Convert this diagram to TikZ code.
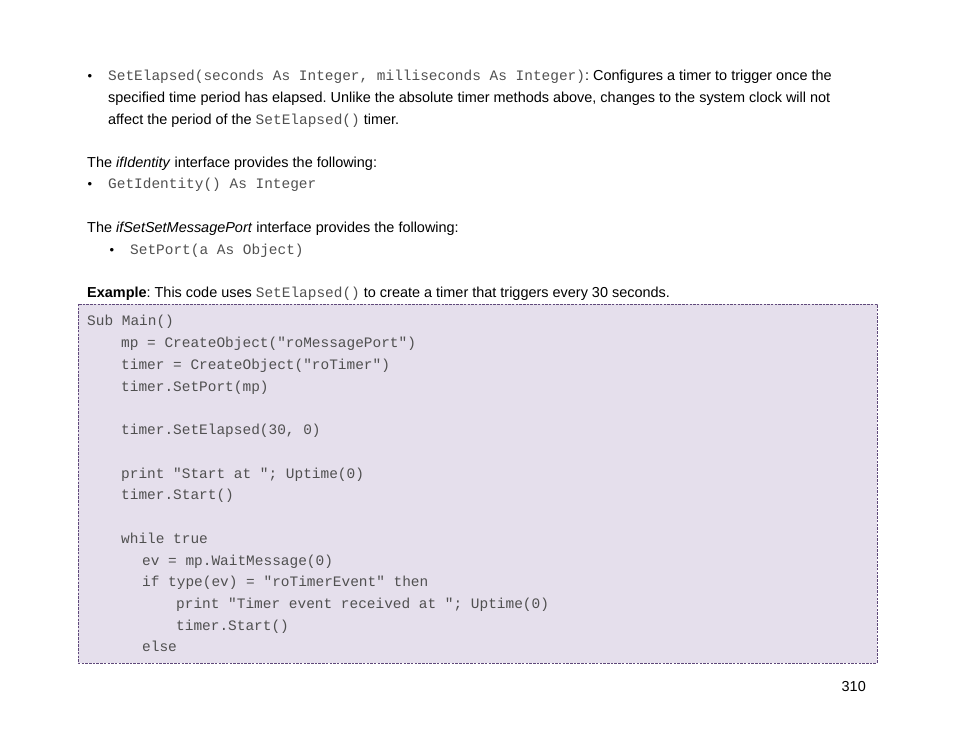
\documentclass[tikz,border=0pt]{standalone}
\usepackage{fontspec}
\setmainfont{Liberation Sans}
\newfontfamily\codefont{Liberation Mono}
\usetikzlibrary{positioning}
\definecolor{boxfill}{HTML}{E5DFEC}
\definecolor{boxline}{HTML}{5F497A}
\definecolor{codegray}{HTML}{505050}
\newcommand\body{\fontsize{14.45}{22}\selectfont}
\newcommand\cd[1]{{\codefont\color{codegray}#1}}
\frenchspacing

\begin{document}
\begin{tikzpicture}[x=1pt,y=-1pt,
    txt/.style={anchor=base west,inner sep=0pt,font=\body},
    code/.style={anchor=base west,inner sep=0pt,font=\body\codefont,text=codegray},
    bul/.style={anchor=base,inner sep=0pt,font=\fontsize{13}{13}\selectfont}]
        \useasboundingbox (0,0) rectangle (954,738);

        \path
        (90,81) node[bul](b1) {\textbullet}
        (108,81) node[txt](l1) {\cd{SetElapsed(seconds As Integer, milliseconds As Integer)}: Configures a timer to trigger once the}
        (108,103) node[txt](l2) {specified time period has elapsed. Unlike the absolute timer methods above, changes to the system clock will not}
        (108,125) node[txt](l3) {affect the period of the \cd{SetElapsed()} timer.}
        (87,168) node[txt](ident) {The \textit{ifIdentity} interface provides the following:}
        (90,189) node[bul](b2) {\textbullet}
        (108,189) node[code](getid) {GetIdentity() As Integer}
        (87,233) node[txt](port) {The \textit{ifSetSetMessagePort} interface provides the following:}
        (112,255) node[bul](b3) {\textbullet}
        (130,255) node[code](setport) {SetPort(a As Object)}
        (87,298) node[txt](ex) {\textbf{Example}: This code uses \cd{SetElapsed()} to create a timer that triggers every 30 seconds.}
        ;

        \draw[boxline,fill=boxfill,line width=0.9pt,dash pattern=on 2.5pt off 1.2pt] (78,304) rectangle (877,663);

        \foreach \i/\x/\t in {0/87/{Sub Main()},
            1/121/{mp = CreateObject("roMessagePort")},
            2/121/{timer = CreateObject("roTimer")},
            3/121/{timer.SetPort(mp)},
            5/121/{timer.SetElapsed(30, 0)},
            7/121/{print "Start at "; Uptime(0)},
            8/121/{timer.Start()},
            10/121/{while true},
            11/142/{ev = mp.WaitMessage(0)},
            12/142/{if type(ev) = "roTimerEvent" then},
            13/176/{print "Timer event received at "; Uptime(0)},
            14/176/{timer.Start()},
            15/142/{else}}
          \node[code](c\i) at (\x,326+21.73*\i) {\t};

        \node[txt,anchor=base east](page) at (866,691) {310};
      \end{tikzpicture}
\end{document}
